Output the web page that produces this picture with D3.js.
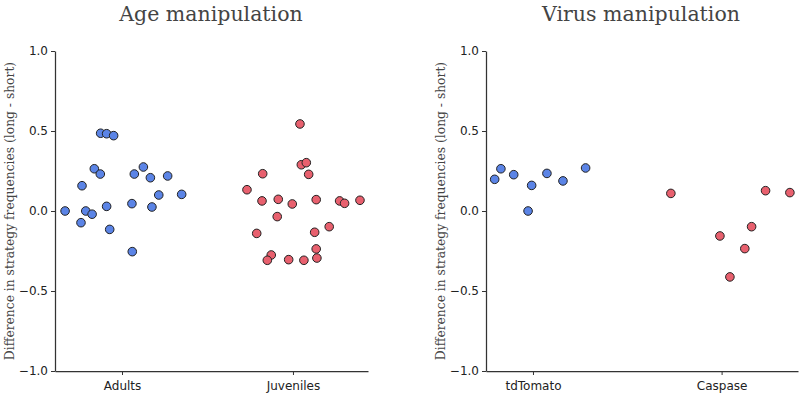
<!DOCTYPE html>
<html>
<head>
<meta charset="utf-8">
<script src="https://cdn.jsdelivr.net/npm/d3@7"></script>
<style>
  body { margin: 0; background: #fff; }
  .tick text { font-family: "DejaVu Sans", sans-serif; font-size: 12px; fill: #222; }
</style>
</head>
<body>
<div id="chart-area"></div>
<script>
// Age manipulation: values and horizontal jitter (in category units)
var adultsVals = [0.0, -0.073, 0.158, 0.0, -0.02, 0.264, 0.231, 0.486, 0.483, 0.471, 0.029, -0.115,
    0.046, -0.254, 0.231, 0.275, 0.208, 0.025, 0.1, 0.219, 0.104];
var adultsJit = [-0.333, -0.24, -0.234, -0.212, -0.175, -0.162, -0.127, -0.125, -0.09, -0.049, -0.09, -0.072,
    0.058, 0.06, 0.072, 0.125, 0.166, 0.175, 0.215, 0.267, 0.349];
var juvVals = [0.544, 0.289, 0.302, 0.229, 0.233, 0.133, 0.063, 0.073, 0.044, 0.071, 0.063, 0.048,
    0.067, -0.035, -0.098, -0.14, -0.133, -0.237, -0.275, -0.308, -0.304, -0.308, -0.294];
var juvJit = [0.041, 0.049, 0.078, 0.092, -0.177, -0.269, -0.181, -0.086, -0.004, 0.136, 0.273, 0.302,
    0.392, -0.092, 0.212, -0.212, 0.127, 0.136, -0.127, -0.15, -0.025, 0.064, 0.14];
// Virus manipulation
var tdVals = [0.198, 0.264, 0.227, 0.0, 0.16, 0.235, 0.188, 0.269];
var tdJit = [-0.203, -0.17, -0.102, -0.026, -0.007, 0.074, 0.159, 0.279];
var caspVals = [0.11, 0.127, 0.115, -0.098, -0.156, -0.235, -0.412];
var caspJit = [-0.269, 0.233, 0.362, 0.159, -0.009, 0.123, 0.044];

var ageCats = ["Adults", "Juveniles"];
var virusCats = ["tdTomato", "Caspase"];
var yTicks = [-1.0, -0.5, 0.0, 0.5, 1.0];

var blue = "#5b84e6";
var red = "#e8606e";

var W = 800, H = 394;
var svg = d3.select("#chart-area").append("svg")
    .attr("width", W)
    .attr("height", H);

var plotTop = 51, plotBottom = 371;
var y = d3.scaleLinear().domain([-1, 1]).range([plotBottom, plotTop]);

function panel(opts) {
    var x = d3.scaleLinear().domain(opts.xdom).range([opts.left, opts.right]);
    var g = svg.append("g");

    g.append("text")
        .attr("x", opts.titleX)
        .attr("y", 21)
        .attr("text-anchor", "middle")
        .attr("font-family", "DejaVu Serif, serif")
        .attr("font-size", "20.5px")
        .attr("fill", "#444")
        .text(opts.title);

    g.append("text")
        .attr("transform", "translate(" + (opts.left - 41) + "," + ((plotTop + plotBottom) / 2) + ") rotate(-90)")
        .attr("text-anchor", "middle")
        .attr("font-family", "DejaVu Serif, serif")
        .attr("font-size", "12.3px")
        .attr("fill", "#444")
        .text("Difference in strategy frequencies (long - short)");

    var yAxis = d3.axisLeft(y)
        .tickValues(yTicks)
        .tickFormat(d3.format(".1f"))
        .tickSize(4)
        .tickSizeOuter(0);
    var yg = g.append("g")
        .attr("transform", "translate(" + opts.left + ",0)")
        .call(yAxis);

    var xAxis = d3.axisBottom(x)
        .tickValues([0, 1])
        .tickFormat(function (d) { return opts.cats[d]; })
        .tickSize(4)
        .tickSizeOuter(0);
    var xg = g.append("g")
        .attr("transform", "translate(0," + plotBottom + ")")
        .call(xAxis);

    [yg, xg].forEach(function (a) {
        a.select(".domain").attr("stroke", "#333").attr("stroke-width", 1.25);
        a.selectAll(".tick line").attr("stroke", "#333").attr("stroke-width", 1);
    });
    xg.selectAll(".tick text").attr("dy", "1.0em");

    opts.groups.forEach(function (grp, gi) {
        var pts = grp.vals.map(function (v, i) { return { v: v, j: grp.jit[i] }; });
        g.append("g").selectAll("circle")
            .data(pts)
            .enter()
            .append("circle")
            .attr("cx", function (d) { return x(gi + d.j); })
            .attr("cy", function (d) { return y(d.v); })
            .attr("r", 4.3)
            .attr("fill", grp.color)
            .attr("stroke", "#222")
            .attr("stroke-width", 1);
    });
}

panel({
    title: "Age manipulation",
    titleX: 211,
    left: 55, right: 368,
    xdom: [-0.392, 1.439],
    cats: ageCats,
    groups: [
        { vals: adultsVals, jit: adultsJit, color: blue },
        { vals: juvVals, jit: juvJit, color: red }
    ]
});

panel({
    title: "Virus manipulation",
    titleX: 641,
    left: 486, right: 798,
    xdom: [-0.249, 1.405],
    cats: virusCats,
    groups: [
        { vals: tdVals, jit: tdJit, color: blue },
        { vals: caspVals, jit: caspJit, color: red }
    ]
});
</script>
</body>
</html>
